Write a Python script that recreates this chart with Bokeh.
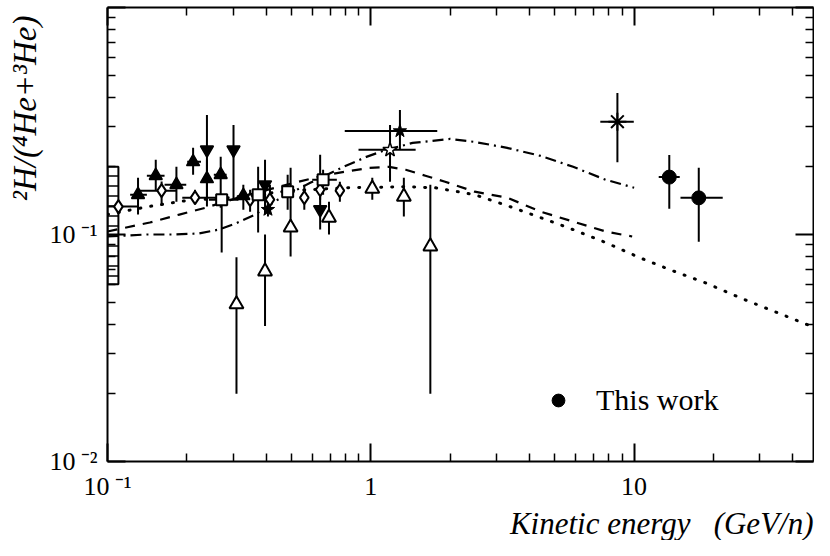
from bokeh.plotting import figure
from bokeh.models import LogAxis, FixedTicker, Legend, LegendItem, ColumnDataSource, Title
from bokeh.embed import file_html
from bokeh.resources import INLINE

# ---------------- axes -----------------
X_START, X_END = 0.1, 48.0
Y_START, Y_END = 0.01, 1.0
x_major_ticks = [0.1, 1, 10]
x_minor_ticks = [0.2, 0.3, 0.4, 0.5, 0.6, 0.7, 0.8, 0.9, 2, 3, 4, 5, 6, 7, 8, 9, 20, 30, 40]
y_major_ticks = [0.01, 0.1, 1]
y_minor_ticks = [0.02, 0.03, 0.04, 0.05, 0.06, 0.07, 0.08, 0.09, 0.2, 0.3, 0.4, 0.5, 0.6, 0.7, 0.8, 0.9]
x_tick_text = {0.1: "10\u2009\u207b\u00b9", 1: "1", 10: "10"}
y_tick_text = {0.01: "10\u2009\u207b\u00b2", 0.1: "10\u2009\u207b\u00b9", 1: ""}
x_title = "Kinetic energy\u00a0\u00a0\u00a0(GeV/n)"
y_title = "\u00b2H/(\u2074He+\u00b3He)"

# ---------------- model curves -----------------
dashdot_x = [0.1, 0.141, 0.1765, 0.2227, 0.2645, 0.306, 0.3637, 0.4433, 0.589, 0.789, 0.962, 1.143,
             1.442, 2.0, 2.48, 3.295, 4.414, 5.866, 7.79, 10.0]
dashdot_y = [0.098, 0.100, 0.100, 0.101, 0.1051, 0.1117, 0.1224, 0.1424, 0.169, 0.1987, 0.2198, 0.236,
             0.2532, 0.2637, 0.2558, 0.2408, 0.222, 0.1987, 0.1743, 0.1607]
dashed_x = [0.1, 0.1448, 0.1875, 0.2365, 0.3224, 0.513, 0.682, 0.987, 1.173, 1.357, 1.612, 1.915,
            2.48, 3.295, 4.414, 5.866, 7.79, 9.83]
dashed_y = [0.1031, 0.1129, 0.1224, 0.1313, 0.1468, 0.169, 0.1834, 0.1967, 0.1987, 0.1928, 0.1815, 0.1708,
            0.1544, 0.1453, 0.1261, 0.114, 0.1031, 0.098]
dotted_x = [0.1, 0.1423, 0.1991, 0.2884, 0.4959, 0.81, 1.357, 1.758, 2.48, 3.295, 4.414, 5.866, 7.79,
            10.44, 13.87, 18.43, 26.0, 48.0]
dotted_y = [0.1224, 0.1327, 0.141, 0.1453, 0.156, 0.1607, 0.1623, 0.1607, 0.1497, 0.134, 0.1187, 0.1051,
            0.0922, 0.0793, 0.0695, 0.0616, 0.0519, 0.0391]

# ---------------- data sets -----------------
band_x0 = [0.1]
band_x1 = [0.11]
band_lo = [0.0604]
band_hi = [0.199]

diamond_x = [0.110, 0.1605, 0.215, 0.348, 0.414, 0.559, 0.642, 0.763]
diamond_y = [0.1327, 0.156, 0.1453, 0.1424, 0.1424, 0.1453, 0.1575, 0.156]
diamond_ylo = [0.1327, 0.134, 0.1354, 0.1261, 0.1224, 0.1287, 0.1424, 0.1395]
diamond_yhi = [0.1327, 0.171, 0.1576, 0.1576, 0.1657, 0.1657, 0.1743, 0.1708]
diamond_xlo = [0.1, 0.1306, 0.1923, 0.348, 0.414, 0.559, 0.642, 0.763]
diamond_xhi = [0.1306, 0.1827, 0.2645, 0.348, 0.414, 0.559, 0.642, 0.763]

tri_x = [0.1306, 0.1525, 0.1827, 0.2114, 0.2386, 0.2691, 0.328]
tri_y = [0.1497, 0.1815, 0.1657, 0.209, 0.176, 0.1834, 0.1483]
tri_ylo = [0.1224, 0.156, 0.1395, 0.1834, 0.1424, 0.1313, 0.1287]
tri_yhi = [0.1778, 0.2133, 0.1987, 0.2408, 0.2133, 0.2198, 0.1657]
tri_xlo = [0.1219, 0.1411, 0.1647, 0.2008, 0.2386, 0.2534, 0.328]
tri_xhi = [0.1411, 0.1647, 0.1991, 0.2265, 0.2386, 0.2834, 0.328]

itri_x = [0.2386, 0.301, 0.3965, 0.6421]
itri_y = [0.236, 0.236, 0.1657, 0.1287]
itri_ylo = [0.1327, 0.1424, 0.1224, 0.1051]
itri_yhi = [0.336, 0.3038, 0.2133, 0.2243]

square_x = [0.2714, 0.3733, 0.4833, 0.6589]
square_y = [0.1424, 0.1497, 0.1544, 0.1743]
square_ylo = [0.0834, 0.102, 0.1287, 0.1497]
square_yhi = [0.1468, 0.1987, 0.1834, 0.1928]
square_xlo = [0.2427, 0.3484, 0.4551, 0.599]
square_xhi = [0.3143, 0.4003, 0.5136, 0.743]

otri_x = [0.3089, 0.3965, 0.4959, 0.6937, 1.013, 1.335, 1.683]
otri_y = [0.0493, 0.0688, 0.1073, 0.1187, 0.1592, 0.1468, 0.0886]
otri_ylo = [0.0199, 0.0395, 0.0801, 0.100, 0.1424, 0.1199, 0.0199]
otri_yhi = [0.0793, 0.100, 0.1967, 0.1395, 0.1778, 0.1778, 0.1657]

star_x = [1.29, 0.4068]
star_y = [0.2858, 0.1287]
star_ylo = [0.236, 0.1199]
star_yhi = [0.3533, 0.1375]
star_xlo = [0.7962, 0.4068]
star_xhi = [1.788, 0.4068]

ostar_x = [1.183]
ostar_y = [0.236]
ostar_ylo = [0.1708]
ostar_yhi = [0.3038]
ostar_xlo = [0.8981]
ostar_xhi = [1.48]

ast_x = [8.64]
ast_y = [0.314]
ast_ylo = [0.208]
ast_yhi = [0.42]
ast_xlo = [7.44]
ast_xhi = [9.97]

work_x = [13.6, 17.6]
work_y = [0.179, 0.145]
work_ylo = [0.130, 0.093]
work_yhi = [0.224, 0.197]
work_xlo = [12.4, 15.0]
work_xhi = [14.9, 21.7]
legend_text = "This work"

SERIF = "Liberation Serif"

p = figure(width=814, height=540, x_axis_type="log", y_axis_type="log",
           x_range=(X_START, X_END), y_range=(Y_START, Y_END),
           output_backend="svg", toolbar_location=None,
           min_border_left=107, min_border_right=1, min_border_top=7, min_border_bottom=77)
p.xgrid.visible = False
p.ygrid.visible = False
p.outline_line_color = None
p.background_fill_color = "white"
p.border_fill_color = "white"


def style_axis(ax, major, minor, labels, font_size="26px", standoff=20):
    ax.ticker = FixedTicker(ticks=major, minor_ticks=minor)
    ax.major_label_overrides = labels
    ax.axis_line_width = 2
    ax.axis_line_color = "black"
    ax.major_tick_in = 18
    ax.major_tick_out = 0
    ax.minor_tick_in = 8
    ax.minor_tick_out = 0
    ax.major_tick_line_width = 2
    ax.minor_tick_line_width = 1.5
    ax.major_label_text_font = SERIF
    ax.major_label_text_font_size = font_size
    ax.major_label_text_color = "black"
    ax.major_label_standoff = standoff


style_axis(p.xaxis[0], x_major_ticks, x_minor_ticks, x_tick_text, standoff=10)
style_axis(p.yaxis[0], y_major_ticks, y_minor_ticks, y_tick_text, standoff=10)
p.yaxis[0].major_label_orientation = "horizontal"

top = LogAxis()
style_axis(top, x_major_ticks, x_minor_ticks, {k: "" for k in x_major_ticks}, font_size="0px", standoff=0)
p.add_layout(top, "above")
right = LogAxis()
style_axis(right, y_major_ticks, y_minor_ticks, {k: "" for k in y_major_ticks}, font_size="0px", standoff=0)
p.add_layout(right, "right")

# axis titles
p.add_layout(Title(text=x_title, align="right", text_font=SERIF, text_font_style="italic",
                   text_font_size="31px", text_color="black", standoff=0, offset=0), "below")
p.add_layout(Title(text=y_title, align="right", text_font=SERIF, text_font_style="italic",
                   text_font_size="33px", text_color="black", standoff=8, offset=8), "left")

# model curves
p.line(dashdot_x, dashdot_y, line_color="black", line_width=2.2, line_dash="11 5 2 5")
p.line(dashed_x, dashed_y, line_color="black", line_width=2.2, line_dash="10 8")
p.line(dotted_x, dotted_y, line_color="black", line_width=3, line_dash="1 10", line_cap="round")

# hatched band
p.quad(left=band_x0, right=band_x1, bottom=band_lo, top=band_hi, fill_color=None,
       line_color="black", line_width=2, hatch_pattern="horizontal_line", hatch_scale=10,
       hatch_color="black", hatch_weight=1.5)


def errors(xs, ys, ylo, yhi, xlo=None, xhi=None):
    src = ColumnDataSource(dict(x=xs, y=ys, ylo=ylo, yhi=yhi))
    p.segment(x0="x", y0="ylo", x1="x", y1="yhi", source=src, line_color="black", line_width=2)
    if xlo is not None:
        src2 = ColumnDataSource(dict(y=ys, xlo=xlo, xhi=xhi))
        p.segment(x0="xlo", y0="y", x1="xhi", y1="y", source=src2, line_color="black", line_width=2)


errors(diamond_x, diamond_y, diamond_ylo, diamond_yhi, diamond_xlo, diamond_xhi)
errors(tri_x, tri_y, tri_ylo, tri_yhi, tri_xlo, tri_xhi)
errors(itri_x, itri_y, itri_ylo, itri_yhi)
errors(square_x, square_y, square_ylo, square_yhi, square_xlo, square_xhi)
errors(otri_x, otri_y, otri_ylo, otri_yhi)
errors(star_x, star_y, star_ylo, star_yhi, star_xlo, star_xhi)
errors(ostar_x, ostar_y, ostar_ylo, ostar_yhi, ostar_xlo, ostar_xhi)
errors(ast_x, ast_y, ast_ylo, ast_yhi, ast_xlo, ast_xhi)
errors(work_x, work_y, work_ylo, work_yhi, work_xlo, work_xhi)

p.scatter(diamond_x, diamond_y, marker="diamond", size=13, fill_color="white", line_color="black", line_width=2)
p.scatter(tri_x, tri_y, marker="triangle", size=13, fill_color="black", line_color="black", line_width=1.5)
p.scatter(itri_x, itri_y, marker="inverted_triangle", size=13, fill_color="black", line_color="black", line_width=1.5)
p.scatter(square_x, square_y, marker="square", size=11, fill_color="white", line_color="black", line_width=2)
p.scatter(otri_x, otri_y, marker="triangle", size=14, fill_color="white", line_color="black", line_width=2)
p.scatter(star_x, star_y, marker="star", size=14, fill_color="black", line_color="black", line_width=1)
p.scatter(ostar_x, ostar_y, marker="star", size=15, fill_color="white", line_color="black", line_width=1.5)
p.scatter(ast_x, ast_y, marker="asterisk", size=18, line_color="black", line_width=2)
work = p.scatter(work_x, work_y, marker="circle", size=14, fill_color="black", line_color="black")

legend = Legend(items=[LegendItem(label=legend_text, renderers=[work])],
                location=(435, 44), orientation="vertical",
                border_line_color=None, background_fill_alpha=0,
                padding=0, margin=0, spacing=0,
                glyph_width=32, glyph_height=32, label_height=32,
                label_standoff=22, label_text_font=SERIF, label_text_font_size="30px",
                label_text_baseline="middle", label_text_color="black")
p.add_layout(legend, "center")

open("out.html", "w").write(file_html(p, INLINE))
